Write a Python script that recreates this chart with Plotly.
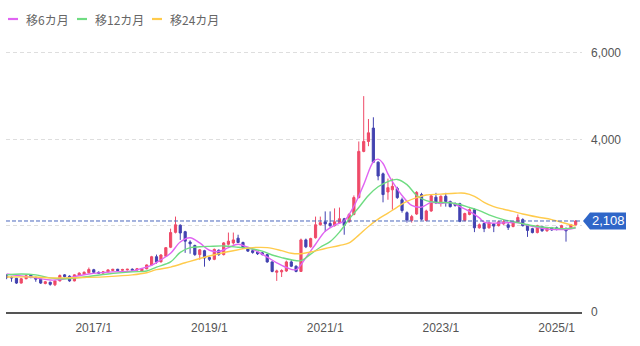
import pandas as pd
import plotly.graph_objects as go

# ---------------- data (monthly candles, 2015/7 - 2025/5) ----------------
months = pd.date_range("2015-07-01", periods=119, freq="MS")

opens = [
    840, 800, 780, 670, 770, 860,
    800, 760, 660, 690, 630, 720, 860, 830, 720, 850, 880, 910,
    980, 920, 900, 930, 960, 990, 965, 975, 990, 970, 950, 1000,
    1090, 1280, 1160, 1290, 1500, 1845, 2010, 1860, 1620, 1540, 1330, 1420,
    1260, 1220, 1430, 1330, 1570, 1600, 1710, 1610, 1480, 1420, 1390, 1370,
    1330, 1160, 920, 930, 950, 1160, 1060, 940, 1670, 1510, 1720, 2020,
    2090, 2050, 2000, 2070, 2160, 2090, 2260, 2650, 3720, 3950, 4260, 3470,
    3200, 2780, 2830, 2860, 2600, 2300, 2120, 2270, 2720, 2120, 2340, 2660,
    2540, 2680, 2560, 2510, 2510, 2120, 2260, 2370, 1950, 2050, 1950, 2040,
    2000, 2040, 2020, 1980, 2090, 2140, 2020, 1930, 1840, 1980, 1880, 1950,
    1950, 1950, 1930, 1950, 2020,
]
highs = [
    880, 830, 790, 790, 870, 880,
    820, 770, 720, 700, 730, 870, 880, 850, 870, 920, 940, 1030,
    1000, 940, 950, 990, 1000, 1000, 1000, 1000, 1010, 1020, 1020, 1100,
    1300, 1330, 1340, 1500, 1930, 2210, 2030, 1880, 1660, 1560, 1460, 1440,
    1280, 1470, 1450, 1620, 1840, 1840, 1790, 1630, 1500, 1440, 1410, 1390,
    1350, 1170, 980, 990, 1190, 1200, 1080, 1700, 1700, 1720, 2210, 2210,
    2330, 2330, 2400, 2420, 2180, 2290, 2700, 3950, 5000, 4470, 4510, 3490,
    3230, 3090, 3090, 2900, 2650, 2330, 2250, 2800, 2760, 2370, 2710, 2760,
    2700, 2760, 2580, 2540, 2530, 2300, 2400, 2400, 2050, 2070, 2090, 2060,
    2110, 2130, 2060, 2110, 2260, 2170, 2040, 1950, 2020, 2000, 1970, 1970,
    1980, 2020, 1960, 2040, 2130,
]
lows = [
    760, 700, 650, 660, 760, 780,
    700, 650, 640, 610, 600, 710, 800, 700, 710, 840, 860, 890,
    900, 880, 890, 920, 950, 950, 950, 960, 960, 960, 940, 990,
    1080, 1120, 1150, 1280, 1480, 1820, 1670, 1370, 1350, 1300, 1210, 1050,
    1180, 1200, 1300, 1310, 1540, 1560, 1600, 1460, 1390, 1350, 1320, 1310,
    1140, 920, 720, 810, 930, 1040, 920, 930, 1480, 1490, 1700, 2000,
    1860, 1950, 1980, 2050, 1790, 2070, 2240, 2630, 3700, 3840, 3450, 3050,
    2540, 2600, 2370, 2620, 2300, 2070, 2070, 2250, 2120, 2100, 2320, 2500,
    2440, 2440, 2420, 2440, 2080, 2100, 2240, 1850, 1930, 1850, 1930, 1850,
    1980, 2020, 1900, 1960, 2060, 1980, 1740, 1820, 1820, 1860, 1860, 1880,
    1890, 1930, 1630, 1920, 2000,
]
closes = [
    800, 790, 670, 770, 840, 800,
    760, 670, 700, 640, 720, 845, 820, 720, 860, 900, 920, 985,
    920, 900, 930, 975, 990, 960, 985, 990, 970, 1000, 1000, 1090,
    1280, 1160, 1320, 1490, 1840, 2020, 1830, 1640, 1580, 1330, 1440, 1250,
    1220, 1450, 1330, 1600, 1640, 1670, 1610, 1480, 1410, 1380, 1350, 1330,
    1160, 940, 950, 960, 1160, 1060, 940, 1670, 1510, 1700, 2020, 2070,
    2040, 2000, 2090, 2160, 2010, 2260, 2650, 3720, 3950, 4150, 3470, 3150,
    2720, 2880, 2910, 2650, 2350, 2130, 2210, 2770, 2150, 2340, 2690, 2530,
    2680, 2560, 2440, 2470, 2100, 2280, 2370, 1950, 2020, 1930, 2070, 1990,
    2090, 2090, 1960, 2090, 2190, 2000, 1890, 1840, 2000, 1880, 1950, 1900,
    1910, 2000, 1880, 2020, 2108,
]

# moving averages
ma6_dates = ["2015-07", "2016-01", "2016-04", "2016-06", "2016-09", "2016-12", "2017-05",
             "2017-09", "2017-11", "2018-01", "2018-03", "2018-05", "2018-07", "2018-09",
             "2018-11", "2019-01", "2019-03", "2019-05", "2019-07", "2019-09", "2019-11",
             "2020-01", "2020-03", "2020-05", "2020-07", "2020-09", "2020-11", "2021-01",
             "2021-03", "2021-05", "2021-07", "2021-09", "2021-11", "2021-12", "2022-01",
             "2022-02", "2022-03", "2022-05", "2022-07", "2022-09", "2022-11", "2023-01",
             "2023-03", "2023-05", "2023-07", "2023-09", "2023-10", "2024-01", "2024-03",
             "2024-05", "2024-07", "2024-09", "2024-11", "2025-01", "2025-03", "2025-05"]
ma6_values = [880, 790, 740, 750, 820, 880, 930,
              950, 1010, 1080, 1210, 1360, 1620, 1720,
              1600, 1430, 1400, 1490, 1570, 1500, 1400,
              1270, 1140, 1030, 980, 1260, 1570, 1870,
              2010, 2110, 2450, 2950, 3480, 3540, 3440,
              3200, 3020, 2700, 2470, 2430, 2540, 2510,
              2540, 2440, 2330, 2180, 2080, 2060, 2070,
              2070, 2010, 1960, 1920, 1910, 1910, 1950]

ma12_dates = ["2015-07", "2015-10", "2016-01", "2016-04", "2016-07", "2016-11", "2017-04",
              "2017-09", "2017-12", "2018-02", "2018-05", "2018-07", "2018-09", "2018-11",
              "2019-01", "2019-04", "2019-07", "2019-10", "2019-12", "2020-02", "2020-04",
              "2020-06", "2020-08", "2020-10", "2020-12", "2021-02", "2021-04", "2021-06",
              "2021-08", "2021-10", "2021-12", "2022-02", "2022-04", "2022-06", "2022-08",
              "2022-10", "2022-12", "2023-03", "2023-05", "2023-07", "2023-09", "2023-11",
              "2024-02", "2024-05", "2024-09", "2024-12", "2025-03", "2025-05"]
ma12_values = [860, 880, 860, 790, 770, 810, 880,
               930, 950, 1040, 1160, 1380, 1490, 1510,
               1520, 1530, 1500, 1460, 1410, 1320, 1260,
               1210, 1190, 1340, 1500, 1630, 1850, 2150,
               2420, 2700, 2900, 3020, 3070, 2950, 2700,
               2580, 2540, 2530, 2490, 2420, 2350, 2250,
               2140, 2070, 1980, 1950, 1930, 1950]

ma24_dates = ["2015-07", "2016-01", "2016-04", "2016-07", "2016-11", "2017-04", "2017-09",
              "2017-12", "2018-02", "2018-05", "2018-08", "2018-11", "2019-03", "2019-06",
              "2019-10", "2020-01", "2020-04", "2020-06", "2020-08", "2020-10", "2021-01",
              "2021-04", "2021-06", "2021-08", "2021-10", "2021-12", "2022-02", "2022-04",
              "2022-06", "2022-08", "2022-10", "2023-01", "2023-04", "2023-06", "2023-08",
              "2023-10", "2023-12", "2024-02", "2024-04", "2024-06", "2024-09", "2024-12",
              "2025-03", "2025-05"]
ma24_values = [810, 810, 790, 790, 800, 820, 860,
               910, 980, 1040, 1140, 1240, 1350, 1420,
               1490, 1490, 1420, 1360, 1350, 1390, 1470,
               1540, 1600, 1780, 1980, 2150, 2290, 2430,
               2560, 2650, 2710, 2730, 2750, 2750, 2680,
               2540, 2440, 2380, 2330, 2270, 2200, 2140,
               2050, 1990]

last_price = closes[-1]
x_tick_vals = ["2017-01-01", "2019-01-01", "2021-01-01", "2023-01-01", "2025-01-01"]
x_tick_text = ["2017/1", "2019/1", "2021/1", "2023/1", "2025/1"]
y_tick_vals = [0, 2000, 4000, 6000]
# the 2,000 label sits behind the current-price tag in the reference
y_tick_text = ["0", "", "4,000", "6,000"]

ma_names = ["移6カ月", "移12カ月", "移24カ月"]
ma_colors = ["#e064f2", "#6fdc82", "#ffcb4c"]

# ---------------- figure ----------------
UP = "#ef4a68"
DOWN = "#4242b0"
fig = go.Figure()

fig.add_trace(go.Candlestick(
    x=months, open=opens, high=highs, low=lows, close=closes,
    increasing=dict(line=dict(color=UP, width=1), fillcolor=UP),
    decreasing=dict(line=dict(color=DOWN, width=1), fillcolor=DOWN),
    whiskerwidth=0, showlegend=False, name="株価",
))

for name, d, v, col in zip(ma_names, [ma6_dates, ma12_dates, ma24_dates],
                           [ma6_values, ma12_values, ma24_values], ma_colors):
    fig.add_trace(go.Scatter(
        x=pd.to_datetime(d), y=v, mode="lines", name=name,
        line=dict(color=col, width=1.4, shape="spline", smoothing=1.0),
        hoverinfo="skip", showlegend=False,
    ))

# compact legend drawn as short line keys + labels (as in the reference)
PW = 576.0  # plot width in px
key_px = [8, 77, 152]
for name, col, kx in zip(ma_names, ma_colors, key_px):
    fig.add_shape(type="line", xref="paper", yref="paper",
                  x0=(kx - 6) / PW, x1=(kx + 4) / PW, y0=1.0772, y1=1.0772,
                  line=dict(color=col, width=2.2))
    fig.add_annotation(xref="paper", yref="paper", x=(kx + 16 - 6) / PW, y=1.0772,
                       text=name, showarrow=False, xanchor="left", yanchor="middle",
                       font=dict(family="Noto Sans CJK JP", size=12, color="#666"))

# current price dashed line
fig.add_shape(type="line", xref="paper", x0=0, x1=1, yref="y", y0=last_price, y1=last_price,
              line=dict(color="#4a68bd", width=1, dash="4px,2px"), layer="above")
# price tag
TAG = "#2f66c8"
fig.add_shape(type="path", xref="paper", xsizemode="pixel", xanchor=1,
              yref="y", ysizemode="pixel", yanchor=last_price,
              path="M 1,0 L 8,8.5 L 44,8.5 L 44,-8.5 L 8,-8.5 Z",
              fillcolor=TAG, line=dict(width=0), layer="above")
fig.add_annotation(xref="paper", x=1, xshift=26, yref="y", y=last_price,
                   text=f"{last_price:,}", showarrow=False,
                   font=dict(color="white", size=13, family="Liberation Sans, Arial"),
                   xanchor="center", yanchor="middle")

fig.update_layout(
    width=640, height=346,
    margin=dict(l=6, r=58, t=40, b=34),
    plot_bgcolor="white", paper_bgcolor="white",
    font=dict(family="Liberation Sans, Arial", size=12, color="#555"),
    showlegend=False,
    xaxis=dict(
        type="date", range=["2015-06-27", "2025-06-10"],
        rangeslider=dict(visible=False),
        tickvals=x_tick_vals, ticktext=x_tick_text,
        showgrid=False, showline=True, linecolor="#555", linewidth=1.5,
        ticks="", zeroline=False, ticklabelstandoff=4,
        tickfont=dict(size=12, color="#555"),
    ),
    yaxis=dict(
        side="right", range=[0, 6300], tickvals=y_tick_vals, ticktext=y_tick_text,
        showgrid=True, gridcolor="#dedede", griddash="4px,3px", gridwidth=1,
        zeroline=False, showline=False, ticks="", ticklabelstandoff=8,
        tickfont=dict(size=12, color="#555"),
    ),
)

fig.write_html("out.html", config={"displayModeBar": False},
               post_script="document.body.style.margin='0px';")
